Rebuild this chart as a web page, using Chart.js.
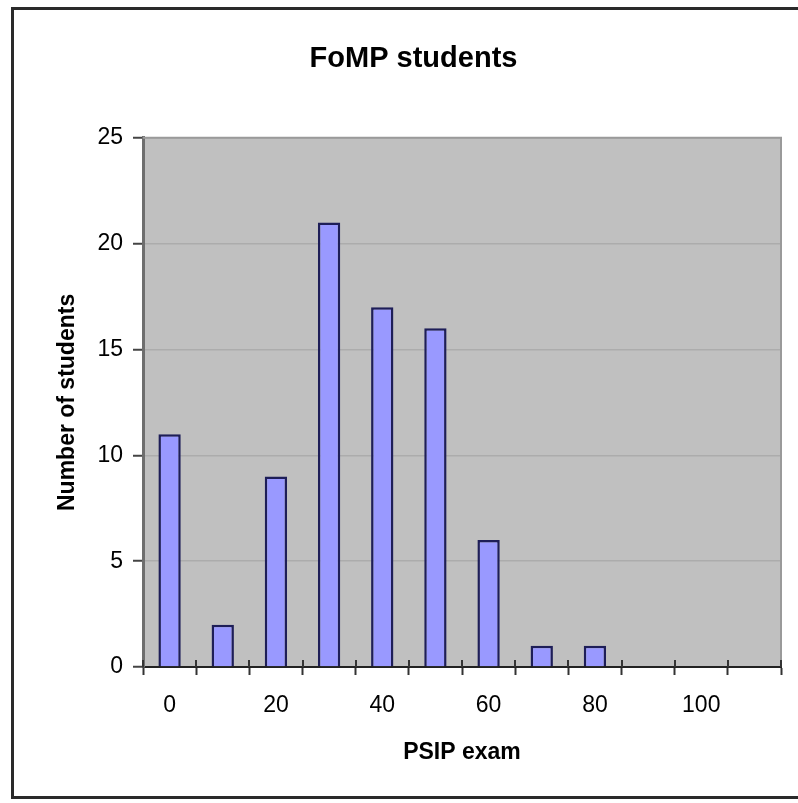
<!DOCTYPE html>
<html>
<head>
<meta charset="utf-8">
<script src="https://cdn.jsdelivr.net/npm/chart.js@4/dist/chart.umd.min.js"></script>
<style>
  html, body { margin: 0; padding: 0; background: #ffffff; }
  #wrap { width: 798px; height: 803px; position: relative; }
</style>
</head>
<body>
<div id="wrap"><canvas id="c" width="798" height="803"></canvas></div>
<script>
// Score bins (PSIP exam marks) and how many students fell in each
const scoreBins = ['0', '10', '20', '30', '40', '50', '60', '70', '80', '90', '100', '110'];
const studentCounts = [11, 2, 9, 21, 17, 16, 6, 1, 1, 0, 0, 0];
const labelledBins = ['0', '20', '40', '60', '80', '100'];
const yTicks = [0, 5, 10, 15, 20, 25];

const FONT = "'Liberation Sans', Arial, Helvetica, sans-serif";

// Grey plot background, plot border and the outer chart frame
const frame = {
  id: 'frame',
  beforeDraw(chart) {
    const { ctx, chartArea: a } = chart;
    ctx.save();
    ctx.fillStyle = '#c0c0c0';
    ctx.fillRect(a.left, a.top, a.right - a.left, a.bottom - a.top);
    ctx.restore();
  },
  afterDraw(chart) {
    const { ctx, chartArea: a } = chart;
    ctx.save();
    // plot area border on top and right
    ctx.strokeStyle = '#9a9a9a';
    ctx.lineWidth = 2;
    ctx.beginPath();
    ctx.moveTo(a.left, a.top);
    ctx.lineTo(a.right, a.top);
    ctx.lineTo(a.right, a.bottom);
    ctx.stroke();
    // tick marks crossing above the category axis
    const xs = chart.scales.x;
    ctx.strokeStyle = '#333333';
    ctx.lineWidth = 2;
    ctx.beginPath();
    for (let i = 0; i <= scoreBins.length; i++) {
      const px = Math.round(xs.getPixelForValue(i - 0.5));
      ctx.moveTo(px, a.bottom);
      ctx.lineTo(px, a.bottom - 7);
    }
    ctx.stroke();
    // outer chart frame
    ctx.strokeStyle = '#2a2a2a';
    ctx.lineWidth = 3;
    ctx.strokeRect(12.5, 8.5, 800, 789);
    ctx.restore();
  }
};

new Chart(document.getElementById('c'), {
  type: 'bar',
  data: {
    labels: scoreBins,
    datasets: [{
      data: studentCounts,
      backgroundColor: '#9999ff',
      borderColor: '#1e1e58',
      borderWidth: 2.5,
      borderSkipped: 'bottom',
      barPercentage: 0.42,
      categoryPercentage: 1.0
    }]
  },
  options: {
    responsive: false,
    animation: false,
    devicePixelRatio: 1,
    layout: { padding: { left: 46, right: 17, top: 0, bottom: 0 } },
    plugins: {
      legend: { display: false },
      tooltip: { enabled: false },
      title: {
        display: true,
        text: 'FoMP students',
        color: '#000000',
        font: { family: FONT, size: 29, weight: 'bold' },
        padding: { top: 42, bottom: 61 }
      }
    },
    scales: {
      x: {
        grid: {
          display: true,
          drawOnChartArea: false,
          offset: true,
          tickLength: 8,
          tickColor: '#333333',
          tickWidth: 2
        },
        border: { display: true, color: '#222222', width: 2 },
        ticks: {
          autoSkip: false,
          maxRotation: 0,
          padding: 17,
          color: '#000000',
          font: { family: FONT, size: 23 },
          callback: function (v, i) {
            const lab = scoreBins[i];
            return labelledBins.includes(lab) ? lab : '';
          }
        },
        title: {
          display: true,
          text: 'PSIP exam',
          color: '#000000',
          font: { family: FONT, size: 23, weight: 'bold' },
          padding: { top: 0, bottom: 37 }
        },
        afterFit(scale) { scale.height = 136; }
      },
      y: {
        min: 0,
        max: 25,
        afterBuildTicks(scale) { scale.ticks = yTicks.map(v => ({ value: v })); },
        grid: {
          color: '#acacac',
          lineWidth: 1.5,
          tickLength: 10,
          tickColor: '#444444',
          tickWidth: 2
        },
        border: { display: true, color: '#6e6e6e', width: 3 },
        ticks: {
          padding: 10,
          color: '#000000',
          font: { family: FONT, size: 23 }
        },
        title: {
          display: true,
          text: 'Number of students',
          color: '#000000',
          font: { family: FONT, size: 23, weight: 'bold' },
          padding: { top: 8, bottom: 0 }
        },
        afterFit(scale) { scale.width = 97; }
      }
    }
  },
  plugins: [frame]
});
</script>
</body>
</html>
